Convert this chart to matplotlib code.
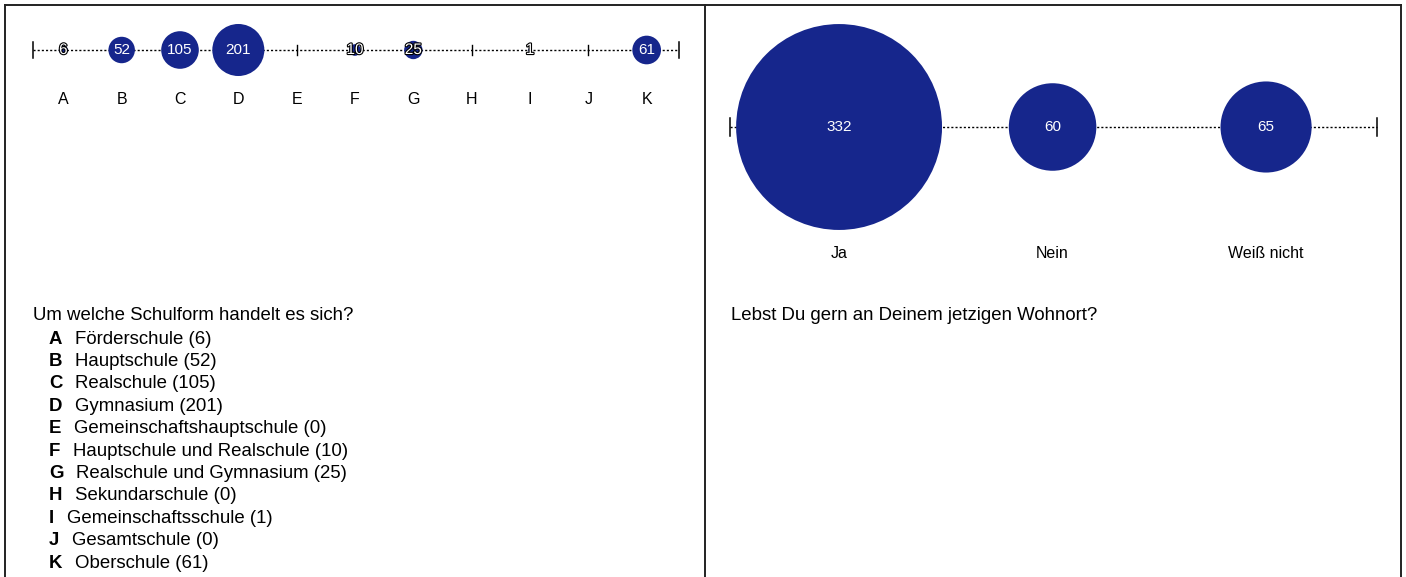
import numpy as np
import matplotlib.pyplot as plt
import matplotlib.patheffects as pe

plt.rcParams['font.family'] = ['Liberation Sans', 'DejaVu Sans']

# data
school_codes = ['A', 'B', 'C', 'D', 'E', 'F', 'G', 'H', 'I', 'J', 'K']
school_names = ['Förderschule', 'Hauptschule', 'Realschule', 'Gymnasium',
                'Gemeinschaftshauptschule', 'Hauptschule und Realschule',
                'Realschule und Gymnasium', 'Sekundarschule',
                'Gemeinschaftsschule', 'Gesamtschule', 'Oberschule']
school_counts = [6, 52, 105, 201, 0, 10, 25, 0, 1, 0, 61]
school_question = 'Um welche Schulform handelt es sich?'

home_labels = ['Ja', 'Nein', 'Weiß nicht']
home_counts = [332, 60, 65]
home_question = 'Lebst Du gern an Deinem jetzigen Wohnort?'

navy = '#16268c'
W, H = 1406, 577

fig = plt.figure(figsize=(W / 100, H / 100), dpi=100)
ax1 = fig.add_axes([5 / W, 0, 700 / W, 572 / H])
ax2 = fig.add_axes([705 / W, 0, 696 / W, 572 / H])

ax1.set_xlim(-1, 11)
ax2.set_xlim(-0.628, 2.632)
for ax in (ax1, ax2):
    ax.set_ylim(577, 5)
    ax.set_xticks([])
    ax.set_yticks([])
    ax.patch.set_visible(False)
    ax.spines['bottom'].set_visible(False)
    for s in ax.spines.values():
        s.set_linewidth(1.4)
        s.set_color('#222222')
ax2.spines['left'].set_visible(False)


def bubble_row(ax, counts, labels, y, ylab, scale, lo, hi, endtick):
    xs = np.arange(len(counts))
    ax.plot([lo, hi], [y, y], color='black', lw=1, ls=(0, (1.5, 1.5)), zorder=1)
    for xe in (lo, hi):
        ax.plot([xe, xe], [y - endtick, y + endtick], color='black', lw=1.1, zorder=1)
    for x, v, lab in zip(xs, counts, labels):
        ax.text(x, ylab, lab, ha='center', va='center', fontsize=11.5)
        if v == 0:
            ax.plot([x, x], [y - 5, y + 5], color='black', lw=1, zorder=1)
            continue
        d = scale * np.sqrt(v) * 0.72  # diameter in points
        ax.scatter([x], [y], s=d ** 2, color=navy, edgecolors='none', zorder=2)
        if v < 30:
            ax.text(x, y, str(v), ha='center', va='center', fontsize=11, color='white',
                    zorder=3, path_effects=[pe.withStroke(linewidth=1.6, foreground='black')])
        else:
            ax.text(x, y, str(v), ha='center', va='center', fontsize=11, color='white', zorder=3)


bubble_row(ax1, school_counts, school_codes, 50, 99, 3.67, -0.52, 10.56, 8)
bubble_row(ax2, home_counts, home_labels, 127, 253, 11.3, -0.51, 2.52, 9)

# question texts
fig.text(33 / W, 1 - 316 / H, school_question, ha='left', va='center', fontsize=13.4)
fig.text(731 / W, 1 - 316 / H, home_question, ha='left', va='center', fontsize=13.4)

for i, (code, name, v) in enumerate(zip(school_codes, school_names, school_counts)):
    yy = 339 + i * 22.4
    t = fig.text(49 / W, 1 - yy / H, code, ha='left', va='center', fontsize=13.4,
                 fontweight='bold')
    ax1.annotate(f'{name} ({v})', xy=(1, 0), xycoords=t, xytext=(9, 0),
                 textcoords='offset points', ha='left', va='bottom', fontsize=13.4,
                 annotation_clip=False)

fig.savefig('out.png', dpi=100)
